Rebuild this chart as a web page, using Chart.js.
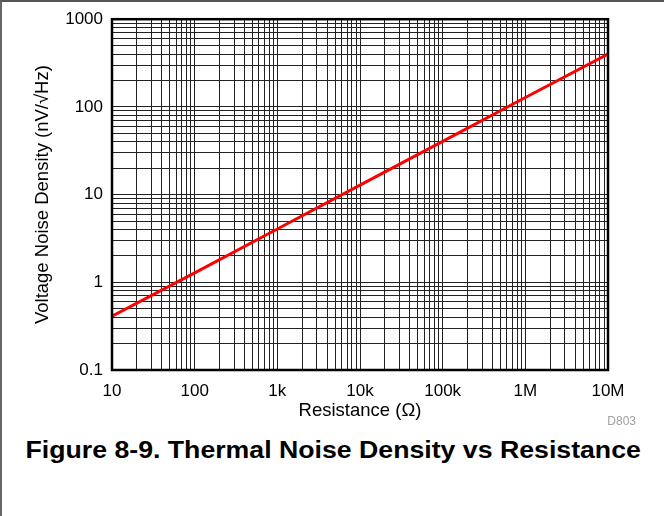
<!DOCTYPE html>
<html>
<head>
<meta charset="utf-8">
<script src="https://cdn.jsdelivr.net/npm/chart.js@4.4.1/dist/chart.umd.min.js"></script>
<style>
  html, body { margin: 0; padding: 0; background: #fff; }
  #wrap {
    position: relative; width: 664px; height: 516px; box-sizing: border-box;
    border-top: 2px solid #555; border-left: 2px solid #666; overflow: hidden;
    font-family: "Liberation Sans", Arial, sans-serif;
  }
  #myChart { position: absolute; left: -2px; top: -2px; }
  #code { position: absolute; right: 28px; top: 412px; font-size: 12px; color: #a0a0a0; }
  #caption {
    position: absolute; left: 0; width: 662px; top: 435px; text-align: center;
    font-size: 23px; font-weight: bold; color: #000;
    transform: scaleX(1.16); transform-origin: 330px 0;
  }
</style>
</head>
<body>
<div id="wrap">
  <canvas id="myChart" width="664" height="425"></canvas>
  <div id="code">D803</div>
  <div id="caption">Figure 8-9. Thermal Noise Density vs Resistance</div>
</div>
<script>
const resistance = [10, 100, 1000, 10000, 100000, 1000000, 10000000];
const noiseDensity = [0.41, 1.28, 4.05, 12.8, 40.5, 128, 400];

const xDecades = [10, 100, 1000, 10000, 100000, 1000000, 10000000];
const xTickLabels = ['10', '100', '1k', '10k', '100k', '1M', '10M'];
const yDecades = [0.1, 1, 10, 100, 1000];
const yTickLabels = ['0.1', '1', '10', '100', '1000'];
const minorSteps = [2, 3, 4, 5, 6, 7, 8, 9];

// decades plus the 2..9 minors in between, for the grid
function gridTicks(decades) {
  const out = [];
  decades.forEach((d, i) => {
    out.push({ value: d });
    if (i < decades.length - 1) minorSteps.forEach(m => out.push({ value: d * m }));
  });
  return out;
}
function labelFor(decades, labels, v) {
  const i = decades.findIndex(d => Math.abs(d - v) / d < 1e-6);
  return i >= 0 ? labels[i] : '';
}

const frame = {
  id: 'frame',
  afterDraw(chart) {
    const { ctx, chartArea: a } = chart;
    ctx.save();
    ctx.strokeStyle = '#000';
    ctx.lineWidth = 2.5;
    ctx.strokeRect(a.left, a.top, a.right - a.left, a.bottom - a.top);
    ctx.restore();
  }
};

const tickFont = { family: '"Liberation Sans", Arial, sans-serif', size: 17 };
const titleFont = { family: '"Liberation Sans", Arial, sans-serif', size: 18.5 };

const myChart = new Chart(document.getElementById('myChart'), {
  type: 'line',
  data: {
    datasets: [{
      data: resistance.map((r, i) => ({ x: r, y: noiseDensity[i] })),
      borderColor: '#ff0000',
      borderWidth: 3,
      pointRadius: 0,
      tension: 0
    }]
  },
  options: {
    responsive: false,
    animation: false,
    layout: { padding: { left: 29, top: 19, right: 56, bottom: 0 } },
    plugins: { legend: { display: false }, tooltip: { enabled: false } },
    scales: {
      x: {
        type: 'logarithmic',
        min: 10, max: 10000000,
        afterBuildTicks: s => { s.ticks = gridTicks(xDecades); },
        afterFit: s => { s.height = 55; },
        grid: { color: '#222', lineWidth: 1, drawTicks: false },
        border: { display: false },
        ticks: {
          autoSkip: false, maxRotation: 0, padding: 11, color: '#000', font: tickFont,
          callback: v => labelFor(xDecades, xTickLabels, v)
        },
        title: { display: true, text: 'Resistance (\u03A9)', color: '#000', font: titleFont, padding: { top: 0, bottom: 3 } }
      },
      y: {
        type: 'logarithmic',
        min: 0.1, max: 1000,
        afterBuildTicks: s => { s.ticks = gridTicks(yDecades); },
        afterFit: s => { s.width = 83; },
        grid: { color: '#222', lineWidth: 1, drawTicks: false },
        border: { display: false },
        ticks: {
          autoSkip: false, padding: 9, color: '#000', font: tickFont,
          callback: v => labelFor(yDecades, yTickLabels, v)
        },
        title: { display: true, text: 'Voltage Noise Density (nV/\u221AHz)', color: '#000', font: titleFont, padding: { top: 3, bottom: 4 } }
      }
    }
  },
  plugins: [frame]
});
</script>
</body>
</html>
